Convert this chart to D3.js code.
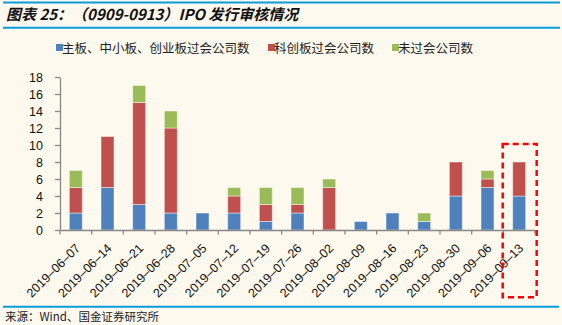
<!DOCTYPE html>
<html><head><meta charset="utf-8">
<script src="https://cdn.jsdelivr.net/npm/d3@7"></script>
<style>
html,body{margin:0;padding:0;background:#FEF9EE;}
svg{display:block;}
</style></head>
<body>
<svg id="c" width="562" height="325"></svg>
<script>
const categories = ["2019-06-07","2019-06-14","2019-06-21","2019-06-28","2019-07-05","2019-07-12","2019-07-19","2019-07-26","2019-08-02","2019-08-09","2019-08-16","2019-08-23","2019-08-30","2019-09-06","2019-09-13"];
const mainBoard = [2,5,3,2,2,2,1,2,0,1,2,1,4,5,4];
const starBoard = [3,6,12,10,0,2,2,1,5,0,0,0,4,1,4];
const rejected  = [2,0,2,2,0,1,2,2,1,0,0,1,0,1,0];
const seriesNames = ["主板、中小板、创业板过会公司数","科创板过会公司数","未过会公司数"];
const colors = ["#4F81BD","#C0504D","#9BBB59"];
const yTicks = [0,2,4,6,8,10,12,14,16,18];

const svg = d3.select("#c");
const W = 562, H = 325;
svg.append("rect").attr("width",W).attr("height",H).attr("fill","#FEF9EE");

// header lines
svg.append("line").attr("x1",3).attr("x2",560).attr("y1",2.5).attr("y2",2.5).attr("stroke","#0A9BDC").attr("stroke-width",2);
svg.append("line").attr("x1",3).attr("x2",560).attr("y1",27.8).attr("y2",27.8).attr("stroke","#0A9BDC").attr("stroke-width",2);
svg.append("text").attr("x",6).attr("y",20).attr("font-family","'Noto Sans CJK SC', sans-serif")
  .attr("font-size",15).attr("font-weight","bold").attr("font-style","italic").attr("fill","#111")
  .text("图表 25：（0909-0913）IPO 发行审核情况");

// footer
svg.append("line").attr("x1",3).attr("x2",559).attr("y1",306.8).attr("y2",306.8).attr("stroke","#0A9BDC").attr("stroke-width",2);
svg.append("text").attr("x",5).attr("y",321).attr("font-family","'Noto Sans CJK SC', sans-serif")
  .attr("font-size",11.5).attr("fill","#222").text("来源：Wind、国金证券研究所");

// legend
const legendItems = [{x:56,tx:62},{x:268,tx:274},{x:392,tx:398}];
seriesNames.forEach((n,i)=>{
  svg.append("rect").attr("x",legendItems[i].x).attr("y",44).attr("width",7).attr("height",7).attr("fill",colors[i]);
  svg.append("text").attr("x",legendItems[i].tx).attr("y",52.5).attr("font-family","'Noto Sans CJK SC', sans-serif")
    .attr("font-size",12.5).attr("fill","#222").text(n);
});

// scales
const x = d3.scaleBand().domain(categories).range([60,535]).paddingInner(0.59).paddingOuter(0.295);
const y = d3.scaleLinear().domain([0,18]).range([230,77]);

const data = categories.map((c,i)=>({cat:c, a:mainBoard[i], b:starBoard[i], c2:rejected[i]}));
const stack = d3.stack().keys(["a","b","c2"])(data);

const g = svg.append("g");
stack.forEach((layer,si)=>{
  g.selectAll(null).data(layer).enter().filter(d=>d[1]-d[0]>0).append("rect")
    .attr("x",d=>x(d.data.cat)).attr("width",x.bandwidth())
    .attr("y",d=>y(d[1])).attr("height",d=>y(d[0])-y(d[1]))
    .attr("fill",colors[si]).attr("stroke","rgba(255,255,255,0.45)").attr("stroke-width",1);
});

// y axis
const yAxis = d3.axisLeft(y).tickValues(yTicks).tickSize(5).tickPadding(12).tickSizeOuter(0);
const ya = svg.append("g").attr("transform","translate(60,0)").call(yAxis);
ya.select(".domain").attr("stroke","#888").attr("stroke-width",1.3);
ya.selectAll(".tick line").attr("stroke","#888").attr("stroke-width",1.3);
ya.selectAll(".tick text").attr("font-family","'Liberation Sans', Arial, sans-serif").attr("font-size",12.5).attr("fill","#111");

// x axis
const xAxis = d3.axisBottom(x).tickSize(0).tickSizeOuter(0).tickFormat(d=>d.replace(/-/g,"–"));
const xa = svg.append("g").attr("transform","translate(0,230)").call(xAxis);
xa.select(".domain").attr("stroke","#888").attr("stroke-width",1.3);
const bounds = d3.range(categories.length+1).map(i=>60+i*(475/categories.length));
xa.selectAll(".btick").data(bounds).enter().append("line").attr("class","btick")
  .attr("x1",d=>d).attr("x2",d=>d).attr("y1",0).attr("y2",4.5).attr("stroke","#888").attr("stroke-width",1.3);
xa.selectAll(".tick text").attr("font-family","'Liberation Sans', Arial, sans-serif").attr("font-size",12.5).attr("fill","#111")
  .attr("text-anchor","end").attr("dy",0).attr("y",0)
  .attr("transform","translate(5,19) rotate(-45)");

// dashed highlight box
svg.append("rect").attr("x",502.7).attr("y",144).attr("width",34).attr("height",153.3)
  .attr("fill","none").attr("stroke","#FF0000").attr("stroke-width",2.5).attr("stroke-dasharray","6,4");
</script>
</body></html>
